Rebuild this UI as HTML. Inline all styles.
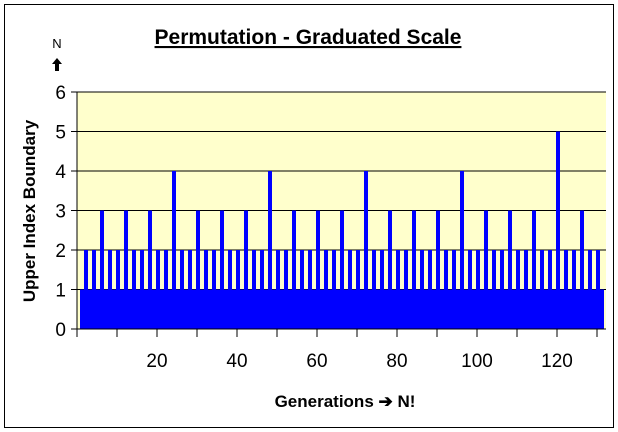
<!DOCTYPE html>
<html><head><meta charset="utf-8"><style>
body{margin:0;background:#fff;}
svg{display:block;font-family:"Liberation Sans",Arial,sans-serif;}
</style></head><body>
<svg id="chart" width="618" height="432" viewBox="0 0 618 432">
<rect x="4.5" y="4.5" width="609" height="423" fill="#fff" stroke="#000" stroke-width="1"/>
<text x="308" y="44" text-anchor="middle" font-size="21" font-weight="bold" text-decoration="underline">Permutation - Graduated Scale</text>
<text x="57" y="48" text-anchor="middle" font-size="13">N</text>
<path d="M57,58 L62,64 L59,64 L59,71 L55,71 L55,64 L52,64 Z" fill="#000"/>
<rect x="77" y="92" width="529" height="237" fill="#FFFFCC"/>
<g id="grid"></g>
<g id="bars"></g>
<g id="axes"></g>
<text transform="translate(35,211) rotate(-90)" text-anchor="middle" font-size="17" font-weight="bold">Upper Index Boundary</text>
<text x="345" y="407" text-anchor="middle" font-size="17" font-weight="bold">Generations ➔ N!</text>
</svg>
<script>
const values = [
1,2,1,2,1,3,1,2,1,2,1,3,
1,2,1,2,1,3,1,2,1,2,1,4,
1,2,1,2,1,3,1,2,1,2,1,3,
1,2,1,2,1,3,1,2,1,2,1,4,
1,2,1,2,1,3,1,2,1,2,1,3,
1,2,1,2,1,3,1,2,1,2,1,4,
1,2,1,2,1,3,1,2,1,2,1,3,
1,2,1,2,1,3,1,2,1,2,1,4,
1,2,1,2,1,3,1,2,1,2,1,3,
1,2,1,2,1,3,1,2,1,2,1,5,
1,2,1,2,1,3,1,2,1,2,1
];
const yTicks = [0,1,2,3,4,5,6];
const xTickLabels = [20,40,60,80,100,120];
const NS='http://www.w3.org/2000/svg';
const pLeft=77,pRight=606,pTop=92,pBottom=329,yMax=6,step=4,barStart=80;
function yS(v){return pBottom-(v/yMax)*(pBottom-pTop);}
function xS(i){return barStart+(i-1)*step;}
function tickX(c){return pLeft+c*step;}
function mk(tag,attrs,parent){const e=document.createElementNS(NS,tag);for(const k in attrs)e.setAttribute(k,attrs[k]);parent.appendChild(e);return e;}
const gridG=document.getElementById('grid'),barsG=document.getElementById('bars'),axesG=document.getElementById('axes');
yTicks.forEach(t=>{
  if(t>0){const g=mk('line',{x1:pLeft,x2:pRight,y1:yS(t),y2:yS(t),stroke:'#000','stroke-width':1},gridG);
  
  }
  const tk=mk('line',{x1:pLeft-6,x2:pLeft,y1:yS(t),y2:yS(t),stroke:'#000'},axesG);
  
  
  const lb=mk('text',{x:pLeft-11,y:yS(t)+7,'text-anchor':'end','font-size':19},axesG);
  lb.textContent=t;
  
  
});
values.forEach((v,i)=>{
  const n=i+1;
  const r=mk('rect',{x:xS(n),y:yS(v),width:step,height:pBottom-yS(v),fill:'#0000FF'},barsG);
  
  
});
const ya=mk('line',{x1:pLeft,x2:pLeft,y1:pTop,y2:pBottom,stroke:'#000'},axesG);


const xa=mk('line',{x1:pLeft,x2:pRight,y1:pBottom,y2:pBottom,stroke:'#000'},axesG);


for(let c=0;c<=130;c+=10){
  const t=mk('line',{x1:tickX(c),x2:tickX(c),y1:pBottom,y2:pBottom+8,stroke:'#000'},axesG);
  
  
}
xTickLabels.forEach(c=>{
  const lb=mk('text',{x:tickX(c),y:pBottom+38,'text-anchor':'middle','font-size':19},axesG);
  lb.textContent=c;
  
  
});
</script>
</body></html>
